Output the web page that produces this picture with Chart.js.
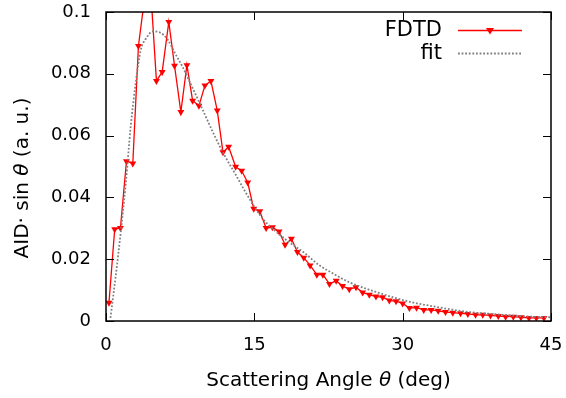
<!DOCTYPE html>
<html>
<head>
<meta charset="utf-8">
<script src="https://cdn.jsdelivr.net/npm/chart.js@4.4.0/dist/chart.umd.min.js"></script>
<style>
    html, body { margin: 0; padding: 0; background: #fff; }
    #wrap { width: 566px; height: 398px; }
</style>
</head>
<body>
<div id="wrap"><canvas id="aidChart" width="566" height="398"></canvas></div>
<script>
// FDTD samples (scattering angle in deg, AID*sin(theta) in a.u.)
const fdtdAngle = [0.30, 0.88, 1.46, 2.07, 2.71, 3.28, 3.88, 4.48, 5.10, 5.68,
    6.35, 6.93, 7.57, 8.18, 8.76, 9.40, 10.00, 10.61, 11.25, 11.83,
    12.40, 13.11, 13.72, 14.33, 14.94, 15.55, 16.19, 16.83, 17.50, 18.11,
    18.75, 19.36, 20.00, 20.64, 21.32, 21.93, 22.60, 23.28, 23.92, 24.60,
    25.28, 25.95, 26.63, 27.30, 27.97, 28.65, 29.33, 30.00, 30.68, 31.40,
    32.13, 32.88, 33.59, 34.33, 35.07, 35.85, 36.59, 37.37, 38.10, 38.88,
    39.67, 40.41, 41.19, 41.96, 42.77, 43.52, 44.29];
const fdtdValue = [0.0059, 0.0297, 0.0301, 0.0517, 0.0510, 0.0890, 0.104, 0.109, 0.0777, 0.0806,
    0.0968, 0.0826, 0.0676, 0.0828, 0.0713, 0.0697, 0.0762, 0.0777, 0.0681, 0.0546,
    0.0564, 0.0499, 0.0486, 0.0448, 0.0363, 0.0355, 0.0301, 0.0303, 0.0290, 0.0247,
    0.0266, 0.0223, 0.0205, 0.0180, 0.0150, 0.0150, 0.0120, 0.0130, 0.0113, 0.0103,
    0.0109, 0.0092, 0.0085, 0.0079, 0.0077, 0.0066, 0.0064, 0.0057, 0.0042, 0.0043,
    0.0036, 0.0036, 0.0033, 0.0029, 0.0027, 0.0025, 0.0023, 0.0020, 0.0020, 0.0018,
    0.0016, 0.0014, 0.0014, 0.0012, 0.0010, 0.0010, 0.0010];

// fit curve
const fitAngle = [0.45, 1.0, 1.5, 2.0, 2.5, 3.0, 3.5, 4.0, 4.75, 5.5,
    6.25, 7.0, 7.75, 8.5, 9.25, 10.0, 11.0, 12.0, 13.0, 14.0,
    15.0, 16.0, 17.0, 18.0, 19.0, 20.0, 21.5, 23.0, 24.5, 26.0,
    27.5, 29.0, 31.0, 33.0, 35.0, 37.0, 39.0, 41.0, 43.0, 45.0];
const fitValue = [0.0010, 0.0150, 0.0290, 0.0445, 0.0630, 0.0770, 0.0875, 0.0912, 0.0937, 0.0933,
    0.0910, 0.0865, 0.0822, 0.0772, 0.0720, 0.0668, 0.0598, 0.0535, 0.0480, 0.0423,
    0.0370, 0.0325, 0.0295, 0.0268, 0.0244, 0.0222, 0.0182, 0.0153, 0.0127, 0.0108,
    0.0092, 0.0077, 0.0060, 0.0048, 0.0037, 0.0028, 0.0023, 0.0018, 0.0014, 0.0012];

const xTicks = [0, 15, 30, 45];
const yTicks = [0, 0.02, 0.04, 0.06, 0.08, 0.1];

const FONT = 'DejaVu Sans';

function drawRich(ctx, parts, cx, cy) {
    let total = 0;
    parts.forEach(p => { ctx.font = p.f; total += ctx.measureText(p.t).width; });
    let x = cx - total / 2;
    ctx.textAlign = 'left';
    ctx.textBaseline = 'middle';
    parts.forEach(p => {
        ctx.font = p.f;
        ctx.fillText(p.t, x, cy);
        x += ctx.measureText(p.t).width;
    });
}

const framePlugin = {
    id: 'frame',
    afterDraw(chart) {
        const { ctx, chartArea: a, scales: { x, y } } = chart;
        ctx.save();
        ctx.strokeStyle = '#000';
        ctx.lineWidth = 1;
        ctx.beginPath();
        xTicks.forEach(v => {
            const px = Math.round(x.getPixelForValue(v)) + 0.5;
            ctx.moveTo(px, a.bottom); ctx.lineTo(px, a.bottom - 8);
            ctx.moveTo(px, a.top); ctx.lineTo(px, a.top + 8);
        });
        yTicks.forEach(v => {
            const py = Math.round(y.getPixelForValue(v)) + 0.5;
            ctx.moveTo(a.left, py); ctx.lineTo(a.left + 8, py);
            ctx.moveTo(a.right, py); ctx.lineTo(a.right - 8, py);
        });
        ctx.stroke();
        ctx.lineWidth = 1.5;
        ctx.strokeRect(a.left, a.top, a.right - a.left, a.bottom - a.top);

        // axis titles
        ctx.fillStyle = '#000';
        const n = '20px "' + FONT + '"';
        const it = 'italic 20px "' + FONT + '"';
        drawRich(ctx, [
            { t: 'Scattering Angle ', f: n },
            { t: 'θ', f: it },
            { t: ' (deg)', f: n }
        ], (a.left + a.right) / 2, 381);
        ctx.save();
        ctx.translate(23, 178);
        ctx.rotate(-Math.PI / 2);
        drawRich(ctx, [
            { t: 'AID·', f: n },
            { t: ' sin ', f: n },
            { t: 'θ', f: it },
            { t: ' (a. u.)', f: n }
        ], 0, 0);
        ctx.restore();

        // legend
        ctx.font = '21px "' + FONT + '"';
        ctx.textAlign = 'right';
        ctx.textBaseline = 'middle';
        ctx.fillText('FDTD', 442, 31);
        ctx.fillText('fit', 442, 54);
        ctx.strokeStyle = '#ff0000';
        ctx.lineWidth = 1.3;
        ctx.beginPath();
        ctx.moveTo(458, 30.5); ctx.lineTo(522, 30.5);
        ctx.stroke();
        ctx.fillStyle = '#ff0000';
        ctx.beginPath();
        ctx.moveTo(486, 28); ctx.lineTo(494, 28); ctx.lineTo(490, 34.5);
        ctx.closePath();
        ctx.fill();
        ctx.strokeStyle = '#808080';
        ctx.lineWidth = 1.8;
        ctx.setLineDash([1.8, 1.8]);
        ctx.beginPath();
        ctx.moveTo(458, 53.5); ctx.lineTo(522, 53.5);
        ctx.stroke();
        ctx.restore();
    }
};

const ctx = document.getElementById('aidChart').getContext('2d');
new Chart(ctx, {
    type: 'scatter',
    data: {
        datasets: [{
            label: 'FDTD',
            data: fdtdAngle.map((a, i) => ({ x: a, y: fdtdValue[i] })),
            showLine: true,
            borderColor: '#ff0000',
            backgroundColor: '#ff0000',
            borderWidth: 1.3,
            pointStyle: 'triangle',
            rotation: 180,
            pointRadius: 4,
            pointBorderWidth: 0,
            clip: 0,
            order: 1
        }, {
            label: 'fit',
            data: fitAngle.map((a, i) => ({ x: a, y: fitValue[i] })),
            showLine: true,
            borderColor: '#808080',
            borderWidth: 1.8,
            borderDash: [1.8, 1.8],
            cubicInterpolationMode: 'monotone',
            pointRadius: 0,
            clip: 0,
            order: 0
        }]
    },
    options: {
        responsive: false,
        animation: false,
        devicePixelRatio: 1,
        layout: { padding: { top: 12, right: 15, left: 0, bottom: 0 } },
        plugins: {
            legend: { display: false },
            tooltip: { enabled: false }
        },
        scales: {
            x: {
                type: 'linear',
                min: 0,
                max: 45,
                afterBuildTicks: s => { s.ticks = xTicks.map(v => ({ value: v })); },
                afterFit: s => { s.height = 77; s.paddingLeft = 0; s.paddingRight = 0; },
                grid: { display: false, drawTicks: false },
                border: { display: false },
                ticks: {
                    color: '#000',
                    padding: 14,
                    maxRotation: 0,
                    font: { family: FONT, size: 18 }
                }
            },
            y: {
                type: 'linear',
                min: 0,
                max: 0.1,
                afterBuildTicks: s => { s.ticks = yTicks.map(v => ({ value: v })); },
                afterFit: s => { s.width = 106; s.paddingTop = 0; s.paddingBottom = 0; },
                grid: { display: false, drawTicks: false },
                border: { display: false },
                ticks: {
                    color: '#000',
                    padding: 15,
                    font: { family: FONT, size: 18 },
                    callback: v => String(+v.toFixed(2))
                }
            }
        }
    },
    plugins: [framePlugin]
});
</script>
</body>
</html>
